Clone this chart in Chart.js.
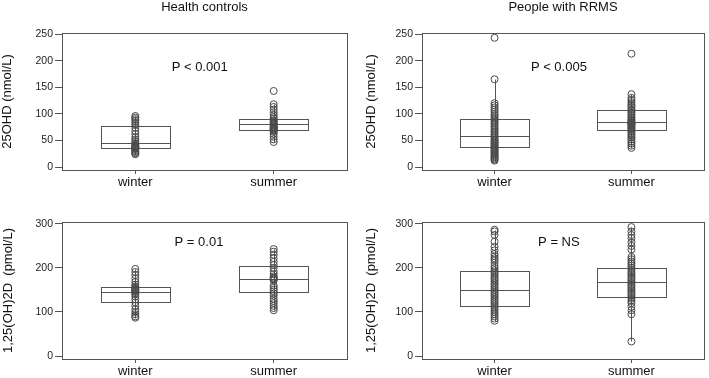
<!DOCTYPE html>
<html>
<head>
<meta charset="utf-8">
<script src="https://cdn.jsdelivr.net/npm/chart.js@4.4.0/dist/chart.umd.min.js"></script>
<style>
  html, body { margin: 0; padding: 0; background: #fff; }
  #wrap { position: relative; width: 709px; height: 378px; }
  #wrap canvas { position: absolute; }
</style>
</head>
<body>
<div id="wrap">
  <canvas id="hcOhd" width="354" height="190" style="left:0;top:0"></canvas>
  <canvas id="rrOhd" width="355" height="190" style="left:354px;top:0"></canvas>
  <canvas id="hcDi" width="354" height="188" style="left:0;top:190px"></canvas>
  <canvas id="rrDi" width="355" height="188" style="left:354px;top:190px"></canvas>
</div>
<script>
// categories and tick labels
var categories = ['winter', 'summer'];
var ohdTicks = [0, 50, 100, 150, 200, 250];
var diTicks = [0, 100, 200, 300];

// individual values
var hcOhdWinter = [96, 93, 90, 87, 83, 79, 74, 68, 62, 56, 52, 48, 45, 42, 40, 39, 38, 37, 36, 35, 34, 32, 30, 28, 26, 24];
var hcOhdSummer = [143, 118, 113, 108, 103, 98, 94, 91, 88, 86, 84, 82, 80, 78, 76, 75, 74, 73, 72, 71, 70, 68, 66, 62, 57, 52, 47];
var rrOhdWinter = [243, 165, 120, 116, 112, 108, 104, 100, 97, 94, 91, 88, 85, 82, 79, 76, 73, 70, 67, 64, 61, 58, 55, 52, 50, 48, 46, 44, 42, 40, 38, 36, 34, 32, 30, 28, 26, 24, 22, 20, 18, 16, 14, 12];
var rrOhdSummer = [213, 137, 130, 126, 122, 118, 115, 112, 108, 105, 102, 99, 96, 93, 90, 88, 86, 84, 83, 82, 81, 80, 78, 76, 74, 72, 70, 67, 64, 61, 58, 55, 52, 48, 44, 40, 36];
var hcDiWinter = [198, 191, 184, 176, 168, 162, 158, 155, 153, 151, 150, 148, 146, 143, 140, 135, 129, 122, 114, 106, 100, 95, 90, 87];
var hcDiSummer = [243, 237, 230, 222, 214, 207, 200, 192, 186, 181, 178, 176, 174, 172, 160, 155, 151, 147, 142, 137, 130, 125, 120, 114, 109, 104];
var rrDiWinter = [287, 283, 275, 260, 248, 240, 232, 227, 222, 218, 212, 205, 200, 195, 190, 186, 182, 178, 174, 170, 166, 162, 158, 154, 150, 146, 142, 138, 134, 130, 126, 122, 118, 114, 110, 105, 100, 95, 90, 85, 80];
var rrDiSummer = [293, 283, 275, 268, 258, 250, 242, 225, 220, 215, 210, 205, 200, 195, 190, 186, 182, 178, 174, 170, 166, 162, 158, 154, 150, 146, 142, 138, 134, 130, 125, 120, 112, 104, 95, 33];

// box stats per category: [whisker low, q1, median, q3, whisker high]
var hcOhdBoxes = [[24, 35, 46, 77, 96], [47, 70, 80, 90, 118]];
var rrOhdBoxes = [[12, 38, 58, 90, 165], [36, 70, 85, 107, 137]];
var hcDiBoxes = [[87, 122, 146, 157, 198], [104, 146, 176, 204, 243]];
var rrDiBoxes = [[80, 114, 151, 193, 287], [33, 133, 168, 201, 293]];

var pLabels = ['P < 0.001', 'P < 0.005', 'P = 0.01', 'P = NS'];

Chart.defaults.font.family = '"Liberation Sans", Arial, sans-serif';
Chart.defaults.color = '#222';

var lineColor = '#555';

// boxes, whiskers, frame and p-value text
function boxPlugin(boxes, pText, pAt) {
    return {
        id: 'boxes',
        beforeDatasetsDraw: function (chart) {
            var ctx = chart.ctx, xs = chart.scales.x, ys = chart.scales.y;
            ctx.save();
            ctx.strokeStyle = lineColor;
            ctx.lineWidth = 1;
            boxes.forEach(function (b, i) {
                var cx = Math.round(xs.getPixelForValue(i + 1)) + 0.5;
                var left = Math.round(xs.getPixelForValue(i + 1 - 0.25)) + 0.5;
                var right = Math.round(xs.getPixelForValue(i + 1 + 0.25)) + 0.5;
                var py = function (v) { return Math.round(ys.getPixelForValue(v)) + 0.5; };
                // whisker
                ctx.beginPath();
                ctx.moveTo(cx, py(b[0]));
                ctx.lineTo(cx, py(b[4]));
                ctx.stroke();
                // box
                ctx.strokeRect(left, py(b[3]), right - left, py(b[1]) - py(b[3]));
                ctx.beginPath();
                ctx.moveTo(left, py(b[2]));
                ctx.lineTo(right, py(b[2]));
                ctx.stroke();
            });
            ctx.restore();
        },
        afterDraw: function (chart) {
            var ctx = chart.ctx, a = chart.chartArea;
            var xs = chart.scales.x, ys = chart.scales.y;
            ctx.save();
            ctx.strokeStyle = lineColor;
            ctx.lineWidth = 1;
            ctx.strokeRect(Math.round(a.left) + 0.5, Math.round(a.top) + 0.5,
                Math.round(a.right - a.left), Math.round(a.bottom - a.top));
            ctx.fillStyle = '#111';
            ctx.font = '13px "Liberation Sans", Arial, sans-serif';
            ctx.textAlign = 'center';
            ctx.textBaseline = 'middle';
            ctx.fillText(pText, xs.getPixelForValue(pAt[0]), ys.getPixelForValue(pAt[1]));
            ctx.restore();
        }
    };
}

function points(values, cat) {
    return values.map(function (v) { return { x: cat, y: v }; });
}

function makePanel(id, cfg) {
    var el = document.getElementById(id);
    new Chart(el, {
        type: 'scatter',
        data: {
            datasets: [{
                data: points(cfg.winter, 1).concat(points(cfg.summer, 2)),
                pointStyle: 'circle',
                pointRadius: 3.5,
                borderWidth: 1,
                borderColor: '#4a4a4a',
                backgroundColor: 'rgba(0,0,0,0)'
            }]
        },
        options: {
            responsive: false,
            animation: false,
            layout: { padding: { left: cfg.padLeft, right: cfg.padRight, top: cfg.padTop, bottom: 0 } },
            plugins: {
                legend: { display: false },
                tooltip: { enabled: false },
                title: {
                    display: !!cfg.title,
                    text: cfg.title || '',
                    fullSize: false,
                    color: '#111',
                    font: { size: 13, weight: 'normal' },
                    padding: { top: 0, bottom: 17.4 }
                }
            },
            scales: {
                x: {
                    type: 'linear',
                    min: 0.47,
                    max: 2.53,
                    afterBuildTicks: function (s) { s.ticks = [{ value: 1 }, { value: 2 }]; },
                    afterFit: function (s) { s.height = cfg.xHeight; },
                    grid: { display: true, drawOnChartArea: false, drawTicks: true, tickLength: 4, color: lineColor },
                    border: { display: false },
                    ticks: {
                        padding: 1,
                        color: '#111',
                        font: { size: 13 },
                        callback: function (v) { return categories[v - 1]; }
                    }
                },
                y: {
                    min: cfg.yMin,
                    max: cfg.yMax,
                    afterBuildTicks: function (s) { s.ticks = cfg.yTicks.map(function (v) { return { value: v }; }); },
                    afterFit: function (s) { s.width = cfg.yWidth; },
                    grid: { display: true, drawOnChartArea: false, drawTicks: true, tickLength: 7, color: lineColor },
                    border: { display: false },
                    title: {
                        display: true,
                        text: cfg.yTitle,
                        color: '#111',
                        font: { size: 13 },
                        padding: { top: 0, bottom: 0 }
                    },
                    ticks: { padding: 2, color: '#222', font: { size: 10.5 } }
                }
            }
        },
        plugins: [boxPlugin(cfg.boxes, cfg.pText, cfg.pAt)]
    });
}

makePanel('hcOhd', {
    title: 'Health controls', yTitle: '25OHD (nmol/L)',
    winter: hcOhdWinter, summer: hcOhdSummer, boxes: hcOhdBoxes,
    yTicks: ohdTicks, yMin: -5.6, yMax: 252,
    padLeft: 0, padRight: 7, padTop: 0, yWidth: 62, xHeight: 20,
    pText: pLabels[0], pAt: [1.465, 188]
});
makePanel('rrOhd', {
    title: 'People with RRMS', yTitle: '25OHD (nmol/L)',
    winter: rrOhdWinter, summer: rrOhdSummer, boxes: rrOhdBoxes,
    yTicks: ohdTicks, yMin: -5.6, yMax: 252,
    padLeft: 10, padRight: 2, padTop: 0, yWidth: 58, xHeight: 20,
    pText: pLabels[1], pAt: [1.47, 188]
});
makePanel('hcDi', {
    yTitle: '1,25(OH)2D  (pmol/L)',
    winter: hcDiWinter, summer: hcDiSummer, boxes: hcDiBoxes,
    yTicks: diTicks, yMin: -6.8, yMax: 304.5,
    padLeft: 1, padRight: 7, padTop: 32, yWidth: 61, xHeight: 19,
    pText: pLabels[2], pAt: [1.46, 257]
});
makePanel('rrDi', {
    yTitle: '1,25(OH)2D  (pmol/L)',
    winter: rrDiWinter, summer: rrDiSummer, boxes: rrDiBoxes,
    yTicks: diTicks, yMin: -6.8, yMax: 304.5,
    padLeft: 10, padRight: 2, padTop: 32, yWidth: 58, xHeight: 19,
    pText: pLabels[3], pAt: [1.47, 257]
});
</script>
</body>
</html>
